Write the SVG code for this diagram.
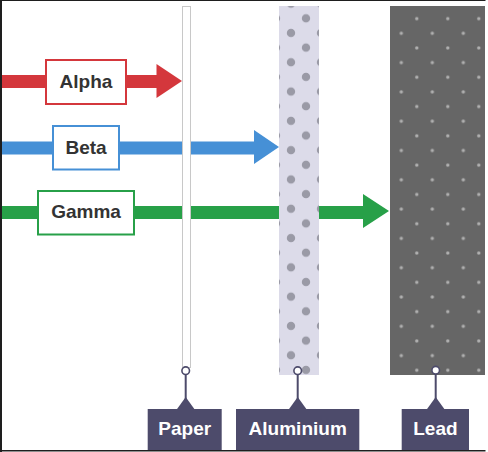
<svg xmlns="http://www.w3.org/2000/svg" width="488" height="452" viewBox="0 0 488 452">
<style>
.lbl{font-family:"Liberation Sans",Arial,sans-serif;font-weight:bold;font-size:19px;text-anchor:middle}
.in{fill:#333333}
.wt{fill:#ffffff}
.tag{fill:#4d4b6b}
.stem{stroke:#4d4b6b;stroke-width:2}
.knob{fill:#ffffff;stroke:#4d4b6b;stroke-width:1.6}
</style>
<defs>
<pattern id="alDots" patternUnits="userSpaceOnUse" x="276" y="18.3" width="30" height="29.3">
<circle cx="0" cy="0" r="4.2" fill="#9a9aa6"/>
<circle cx="30" cy="0" r="4.2" fill="#9a9aa6"/>
<circle cx="0" cy="29.3" r="4.2" fill="#9a9aa6"/>
<circle cx="30" cy="29.3" r="4.2" fill="#9a9aa6"/>
<circle cx="15" cy="14.65" r="4.2" fill="#9a9aa6"/>
</pattern>
<pattern id="pbDots" patternUnits="userSpaceOnUse" x="401.3" y="33.3" width="31" height="29.3">
<circle cx="0" cy="0" r="1.7" fill="#b0b0b0"/>
<circle cx="31" cy="0" r="1.7" fill="#b0b0b0"/>
<circle cx="0" cy="29.3" r="1.7" fill="#b0b0b0"/>
<circle cx="31" cy="29.3" r="1.7" fill="#b0b0b0"/>
<circle cx="15.5" cy="14.65" r="1.7" fill="#b0b0b0"/>
</pattern>
</defs>
<rect x="0" y="0" width="488" height="452" fill="#ffffff"/>
<g id="connectors">
<rect x="0" y="75" width="158" height="13" fill="#d4373c"/>
<polygon points="156.5,64 182,81 156.5,98" fill="#d4373c"/>
<rect x="0" y="141.5" width="256" height="13" fill="#4690d6"/>
<polygon points="254,130 279,147 254,164" fill="#4690d6"/>
<rect x="0" y="206" width="365" height="13" fill="#27a048"/>
<polygon points="363,194 389,211 363,228" fill="#27a048"/>
</g>
<g id="paper">
<rect x="182.5" y="6.5" width="8" height="361" fill="#ffffff" stroke="#c8c8c8" stroke-width="1"/>
</g>
<g id="aluminium">
<rect x="279" y="6" width="40" height="369" fill="#dcdbe9"/>
<rect x="279" y="6" width="40" height="369" fill="url(#alDots)"/>
</g>
<g id="lead">
<rect x="390" y="6" width="95" height="369" fill="#666666"/>
<rect x="390" y="6" width="95" height="369" fill="url(#pbDots)"/>
</g>
<g id="alpha">
<rect x="46" y="60" width="80" height="44" fill="#ffffff" stroke="#d4373c" stroke-width="2"/>
<text class="lbl in" x="86" y="88">Alpha</text>
</g>
<g id="beta">
<rect x="53" y="126" width="66" height="43.5" fill="#ffffff" stroke="#4690d6" stroke-width="2"/>
<text class="lbl in" x="86" y="153.5">Beta</text>
</g>
<g id="gamma">
<rect x="38" y="191" width="96" height="43.5" fill="#ffffff" stroke="#27a048" stroke-width="2"/>
<text class="lbl in" x="86" y="218">Gamma</text>
</g>
<g id="paper-label">
<line class="stem" x1="185.7" y1="374" x2="185.7" y2="400"/>
<circle class="knob" cx="185.7" cy="370.7" r="3.8"/>
<polygon class="tag" points="176.7,409.5 185.7,397 194.7,409.5"/>
<rect class="tag" x="147.7" y="409" width="74" height="41"/>
<text class="lbl wt" x="184.7" y="435">Paper</text>
</g>
<g id="aluminium-label">
<line class="stem" x1="297.7" y1="374" x2="297.7" y2="400"/>
<circle class="knob" cx="297.7" cy="370.7" r="3.8"/>
<polygon class="tag" points="288.7,409.5 297.7,397 306.7,409.5"/>
<rect class="tag" x="236" y="409" width="123.3" height="41"/>
<text class="lbl wt" x="297.7" y="435">Aluminium</text>
</g>
<g id="lead-label">
<line class="stem" x1="435.7" y1="374" x2="435.7" y2="400"/>
<circle class="knob" cx="435.7" cy="370.2" r="3.8"/>
<polygon class="tag" points="426.7,409.5 435.7,397 444.7,409.5"/>
<rect class="tag" x="401.7" y="409" width="67.3" height="41"/>
<text class="lbl wt" x="435.4" y="435">Lead</text>
</g>
<g id="frame" stroke="#1e1e1e" fill="none">
<line x1="1" y1="0" x2="1" y2="452" stroke-width="2"/>
<line x1="0" y1="0.5" x2="485.5" y2="0.5" stroke-width="1.2"/>
<line x1="0" y1="450.8" x2="485.5" y2="450.8" stroke-width="1.5"/>
</g>
</svg>
